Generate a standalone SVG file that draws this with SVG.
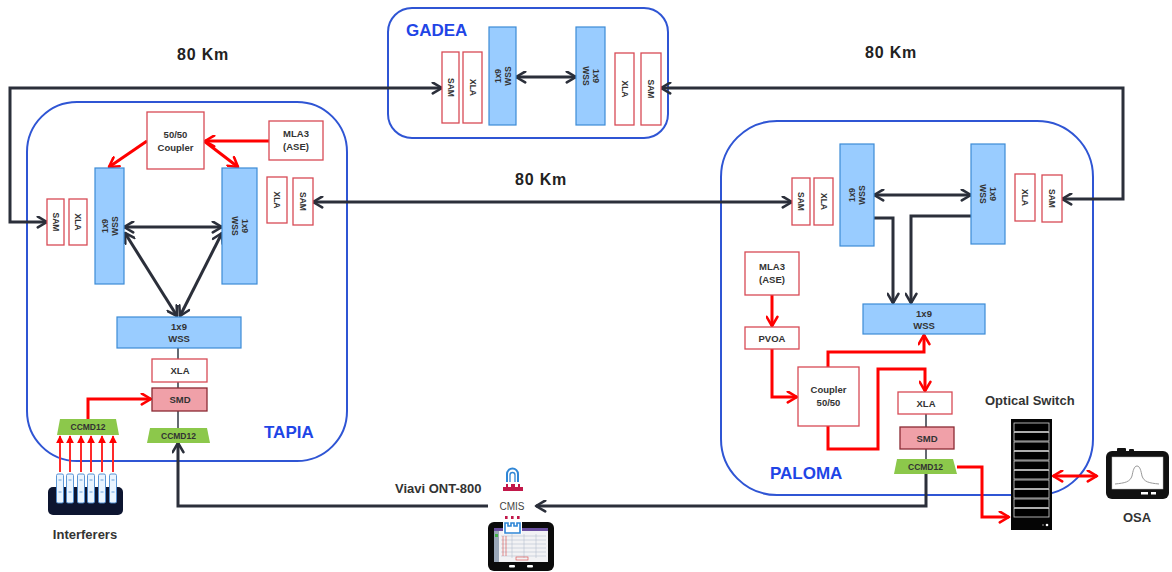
<svg xmlns="http://www.w3.org/2000/svg" width="1172" height="572" viewBox="0 0 1172 572">
  <style>
    text { font-family: "Liberation Sans", Arial, sans-serif; font-weight: bold; }
    .site { fill: none; stroke: #2f55d4; stroke-width: 2; }
    .site-label { fill: #1f45e6; font-size: 17px; }
    .wss { fill: #99ccff; stroke: #3c8bd6; stroke-width: 1.2; }
    .amp { fill: #ffffff; stroke: #d84a55; stroke-width: 1.3; }
    .smd { fill: #f0a0a8; stroke: #8a2a33; stroke-width: 1.3; }
    .ccmd { fill: #8cc84b; }
    .lbl { fill: #333333; font-size: 9.5px; text-anchor: middle; }
    .small { font-size: 8.5px; }
    .km { fill: #222222; font-size: 16px; letter-spacing: 0.8px; }
    .dark { fill: none; stroke: #2b2f3a; stroke-width: 3; marker-end: url(#arrDark); }
    .dark2 { fill: none; stroke: #2b2f3a; stroke-width: 3; marker-start: url(#arrDark); marker-end: url(#arrDark); }
    .thin { fill: none; stroke: #333a44; stroke-width: 1.5; }
    .red { fill: none; stroke: #ff0000; stroke-width: 3; marker-end: url(#arrRed); }
    .red2 { fill: none; stroke: #ff0000; stroke-width: 3; marker-start: url(#arrRed); marker-end: url(#arrRed); }
    .redthin { fill: none; stroke: #ff2a2a; stroke-width: 2; marker-end: url(#arrRedSmall); }
    .caption { fill: #333333; font-size: 13px; }
  </style>
  <defs>
    <marker id="arrDark" viewBox="0 0 12 12" refX="10.5" refY="6" markerWidth="13" markerHeight="13" markerUnits="userSpaceOnUse" orient="auto-start-reverse">
      <path d="M2,1 L10.5,6 L2,11" fill="none" stroke="#2b2f3a" stroke-width="2.4" stroke-linecap="round" stroke-linejoin="round"/>
    </marker>
    <marker id="arrRed" viewBox="0 0 12 12" refX="10.5" refY="6" markerWidth="13" markerHeight="13" markerUnits="userSpaceOnUse" orient="auto-start-reverse">
      <path d="M2,1 L10.5,6 L2,11" fill="none" stroke="#ff0000" stroke-width="2.4" stroke-linecap="round" stroke-linejoin="round"/>
    </marker>
    <marker id="arrRedSmall" viewBox="0 0 10 10" refX="9" refY="5" markerWidth="8" markerHeight="8" markerUnits="userSpaceOnUse" orient="auto">
      <path d="M0,0 L10,5 L0,10 Z" fill="#ff0000"/>
    </marker>
  </defs>

  <rect width="1172" height="572" fill="#ffffff"/>

  <!-- site outlines -->
  <g id="site-tapia">
    <rect class="site" x="27" y="102" width="320" height="359" rx="50"/>
    <text class="site-label" x="264" y="438">TAPIA</text>
  </g>
  <g id="site-gadea">
    <rect class="site" x="388" y="8" width="280" height="130" rx="24"/>
    <text class="site-label" x="406" y="36">GADEA</text>
  </g>
  <g id="site-paloma">
    <rect class="site" x="721" y="121" width="372" height="374" rx="56"/>
    <text class="site-label" x="770" y="479">PALOMA</text>
  </g>

  <!-- span labels -->
  <g id="spans">
    <text class="km" x="177" y="60">80 Km</text>
    <text class="km" x="515" y="185">80 Km</text>
    <text class="km" x="865" y="58">80 Km</text>
  </g>

  <!-- connectors -->
  <g id="connectors">
    <!-- fibre spans -->
    <path class="dark2" d="M442,88 H10 V222 H47"/>
    <path class="dark2" d="M661,88 H1123 V199 H1062"/>
    <path class="dark2" d="M313,202 H792"/>
    <!-- GADEA express -->
    <path class="dark2" d="M516,77 H576"/>
    <!-- TAPIA express -->
    <path class="dark2" d="M124,227 H222"/>
    <path class="dark2" d="M125,233 L177,316"/>
    <path class="dark2" d="M222,233 L180,316"/>
    <!-- PALOMA express -->
    <path class="dark2" d="M874,195 H971"/>
    <path class="dark" d="M874,218 H893 V303"/>
    <path class="dark" d="M971,216 H911 V303"/>
    <!-- test path through CMIS -->
    <path class="dark" d="M926,474 V506 H536"/>
    <path class="dark" d="M488,506 H178 V443"/>
    <!-- drop chains -->
    <path class="thin" d="M178,348 V359 M178,382 V388 M178,411 V428"/>
    <path class="thin" d="M926,414 V427 M926,449 V459"/>
    <!-- ASE loading, TAPIA -->
    <path class="red" d="M269,141 H205"/>
    <path class="red" d="M147,141 L109,167"/>
    <path class="red" d="M204,141 L238,167"/>
    <path class="red" d="M88,419 V399 H151"/>
    <!-- interferer inputs -->
    <path class="redthin" d="M60,472 V436"/>
    <path class="redthin" d="M70,472 V436"/>
    <path class="redthin" d="M81,472 V436"/>
    <path class="redthin" d="M91,472 V436"/>
    <path class="redthin" d="M102,472 V436"/>
    <path class="redthin" d="M113,472 V436"/>
    <!-- ASE loading, PALOMA -->
    <path class="red" d="M772,295 V326"/>
    <path class="red" d="M772,349 V397 H797"/>
    <path class="red" d="M828,367 V352 H924 V335"/>
    <path class="red" d="M828,426 V449 H878 V369 H925 V391"/>
    <path class="red" d="M957,467 H982 V517 H1009"/>
    <path class="red2" d="M1053,476 H1097"/>
  </g>

  <!-- TAPIA nodes -->
  <g id="tapia-coupler">
    <rect class="amp" x="147" y="112" width="57" height="57"/>
    <text class="lbl" x="175.5" y="138">50/50</text>
    <text class="lbl" x="175.5" y="151">Coupler</text>
  </g>
  <g id="tapia-mla3">
    <rect class="amp" x="269" y="121" width="54" height="39"/>
    <text class="lbl" x="296" y="137">MLA3</text>
    <text class="lbl" x="296" y="150">(ASE)</text>
  </g>
  <g id="tapia-sam-w">
    <rect class="amp" x="47" y="199" width="17" height="46"/>
    <text class="lbl small" transform="translate(55.5,222) rotate(90)" y="3">SAM</text>
  </g>
  <g id="tapia-xla-w">
    <rect class="amp" x="69" y="199" width="18" height="46"/>
    <text class="lbl small" transform="translate(78,222) rotate(90)" y="3">XLA</text>
  </g>
  <g id="tapia-wss-w">
    <rect class="wss" x="95" y="168" width="29" height="116"/>
    <text class="lbl small" transform="translate(109.5,226) rotate(-90)" y="-2">1x9</text>
    <text class="lbl small" transform="translate(109.5,226) rotate(-90)" y="8">WSS</text>
  </g>
  <g id="tapia-wss-e">
    <rect class="wss" x="222" y="168" width="35" height="116"/>
    <text class="lbl small" transform="translate(239.5,226) rotate(90)" y="-2">1x9</text>
    <text class="lbl small" transform="translate(239.5,226) rotate(90)" y="8">WSS</text>
  </g>
  <g id="tapia-xla-e">
    <rect class="amp" x="267" y="177" width="20" height="46"/>
    <text class="lbl small" transform="translate(277,200) rotate(90)" y="3">XLA</text>
  </g>
  <g id="tapia-sam-e">
    <rect class="amp" x="293" y="178" width="20" height="47"/>
    <text class="lbl small" transform="translate(303,201.5) rotate(90)" y="3">SAM</text>
  </g>
  <g id="tapia-wss-drop">
    <rect class="wss" x="117" y="317" width="124" height="31"/>
    <text class="lbl" x="179" y="330">1x9</text>
    <text class="lbl" x="179" y="342">WSS</text>
  </g>
  <g id="tapia-xla-drop">
    <rect class="amp" x="152" y="359" width="55" height="23"/>
    <text class="lbl" x="180" y="374">XLA</text>
  </g>
  <g id="tapia-smd">
    <rect class="smd" x="152" y="388" width="55" height="23"/>
    <text class="lbl" x="180" y="403" fill="#5a3a3e">SMD</text>
  </g>
  <g id="tapia-ccmd12">
    <polygon class="ccmd" points="150,428 207,428 210,443 147,443"/>
    <text class="lbl small" x="178.5" y="439">CCMD12</text>
  </g>
  <g id="tapia-ccmd12-interferers">
    <polygon class="ccmd" points="60,419 116,419 119,435 57,435"/>
    <text class="lbl small" x="88" y="430">CCMD12</text>
  </g>
  <g id="interferers">
    <rect x="48" y="487" width="75" height="28" rx="5" fill="#0d1530"/>
    <g fill="#eaf5ff" stroke="#4a8ad0" stroke-width="0.9">
      <rect x="56.5" y="474" width="7" height="29" rx="1.5"/>
      <rect x="66.5" y="474" width="7" height="29" rx="1.5"/>
      <rect x="77.5" y="474" width="7" height="29" rx="1.5"/>
      <rect x="87.5" y="474" width="7" height="29" rx="1.5"/>
      <rect x="98.5" y="474" width="7" height="29" rx="1.5"/>
      <rect x="109.5" y="474" width="7" height="29" rx="1.5"/>
    </g>
    <g fill="none" stroke="#4a8ad0" stroke-width="0.8">
      <path d="M58.5,480 H61.5 M68.5,480 H71.5 M79.5,480 H82.5 M89.5,480 H92.5 M100.5,480 H103.5 M111.5,480 H114.5"/>
      <path d="M58.5,492 H61.5 M68.5,492 H71.5 M79.5,492 H82.5 M89.5,492 H92.5 M100.5,492 H103.5 M111.5,492 H114.5"/>
    </g>
    <text class="caption" x="85" y="539" text-anchor="middle" font-size="12.5">Interferers</text>
  </g>

  <!-- GADEA nodes -->
  <g id="gadea-sam-w">
    <rect class="amp" x="442" y="52" width="17" height="71"/>
    <text class="lbl small" transform="translate(450.5,87.5) rotate(90)" y="3">SAM</text>
  </g>
  <g id="gadea-xla-w">
    <rect class="amp" x="463" y="52" width="19" height="71"/>
    <text class="lbl small" transform="translate(472.5,87.5) rotate(90)" y="3">XLA</text>
  </g>
  <g id="gadea-wss-w">
    <rect class="wss" x="489" y="27" width="27" height="98"/>
    <text class="lbl small" transform="translate(502.5,76) rotate(-90)" y="-2">1x9</text>
    <text class="lbl small" transform="translate(502.5,76) rotate(-90)" y="8">WSS</text>
  </g>
  <g id="gadea-wss-e">
    <rect class="wss" x="576" y="27" width="29" height="98"/>
    <text class="lbl small" transform="translate(590.5,76) rotate(90)" y="-2">1x9</text>
    <text class="lbl small" transform="translate(590.5,76) rotate(90)" y="8">WSS</text>
  </g>
  <g id="gadea-xla-e">
    <rect class="amp" x="615" y="53" width="19" height="72"/>
    <text class="lbl small" transform="translate(624.5,89) rotate(90)" y="3">XLA</text>
  </g>
  <g id="gadea-sam-e">
    <rect class="amp" x="641" y="53" width="20" height="72"/>
    <text class="lbl small" transform="translate(651,89) rotate(90)" y="3">SAM</text>
  </g>

  <!-- PALOMA nodes -->
  <g id="paloma-sam-w">
    <rect class="amp" x="792" y="178" width="18" height="47"/>
    <text class="lbl small" transform="translate(801,201.5) rotate(90)" y="3">SAM</text>
  </g>
  <g id="paloma-xla-w">
    <rect class="amp" x="814" y="178" width="19" height="47"/>
    <text class="lbl small" transform="translate(823.5,201.5) rotate(90)" y="3">XLA</text>
  </g>
  <g id="paloma-wss-w">
    <rect class="wss" x="840" y="144" width="34" height="102"/>
    <text class="lbl small" transform="translate(857,195) rotate(-90)" y="-2">1x9</text>
    <text class="lbl small" transform="translate(857,195) rotate(-90)" y="8">WSS</text>
  </g>
  <g id="paloma-wss-e">
    <rect class="wss" x="971" y="144" width="34" height="100"/>
    <text class="lbl small" transform="translate(988,194) rotate(90)" y="-2">1x9</text>
    <text class="lbl small" transform="translate(988,194) rotate(90)" y="8">WSS</text>
  </g>
  <g id="paloma-xla-e">
    <rect class="amp" x="1015" y="174" width="20" height="47"/>
    <text class="lbl small" transform="translate(1025,197.5) rotate(90)" y="3">XLA</text>
  </g>
  <g id="paloma-sam-e">
    <rect class="amp" x="1042" y="175" width="20" height="47"/>
    <text class="lbl small" transform="translate(1052,198.5) rotate(90)" y="3">SAM</text>
  </g>
  <g id="paloma-wss-drop">
    <rect class="wss" x="863" y="304" width="122" height="30"/>
    <text class="lbl" x="924" y="317">1x9</text>
    <text class="lbl" x="924" y="329">WSS</text>
  </g>
  <g id="paloma-mla3">
    <rect class="amp" x="745" y="252" width="54" height="43"/>
    <text class="lbl" x="772" y="270">MLA3</text>
    <text class="lbl" x="772" y="283">(ASE)</text>
  </g>
  <g id="paloma-pvoa">
    <rect class="amp" x="745" y="327" width="54" height="22"/>
    <text class="lbl" x="772" y="342">PVOA</text>
  </g>
  <g id="paloma-coupler">
    <rect class="amp" x="798" y="367" width="61" height="59"/>
    <text class="lbl" x="828.5" y="393">Coupler</text>
    <text class="lbl" x="828.5" y="406">50/50</text>
  </g>
  <g id="paloma-xla-drop">
    <rect class="amp" x="898" y="392" width="54" height="22"/>
    <text class="lbl" x="926" y="407">XLA</text>
  </g>
  <g id="paloma-smd">
    <rect class="smd" x="900" y="427" width="54" height="22"/>
    <text class="lbl" x="927" y="442" fill="#5a3a3e">SMD</text>
  </g>
  <g id="paloma-ccmd12">
    <polygon class="ccmd" points="897,459 953,459 957,474 894,474"/>
    <text class="lbl small" x="925.5" y="470">CCMD12</text>
  </g>

  <!-- optical switch -->
  <g id="optical-switch">
    <text class="caption" x="985" y="405">Optical Switch</text>
    <rect x="1011" y="419" width="41" height="111" fill="#050505"/>
    <g fill="#000000" stroke="#d8d8d8" stroke-width="0.8">
      <rect x="1014" y="423" width="35" height="8.5"/>
      <rect x="1014" y="432.5" width="35" height="8.5"/>
      <rect x="1014" y="442" width="35" height="8.5"/>
      <rect x="1014" y="451.5" width="35" height="8.5"/>
      <rect x="1014" y="461" width="35" height="8.5"/>
      <rect x="1014" y="470.5" width="35" height="8.5"/>
      <rect x="1014" y="480" width="35" height="8.5"/>
      <rect x="1014" y="489.5" width="35" height="8.5"/>
      <rect x="1014" y="499" width="35" height="8.5"/>
      <rect x="1014" y="508.5" width="35" height="8.5"/>
    </g>
    <circle cx="1047" cy="525" r="1.3" fill="#ffffff"/>
    <circle cx="1043" cy="525" r="0.8" fill="#aaaaaa"/>
  </g>

  <!-- OSA -->
  <g id="osa">
    <rect x="1117" y="448" width="9" height="4" rx="1" fill="#111111"/>
    <rect x="1129" y="449" width="5" height="3" rx="1" fill="#111111"/>
    <rect x="1106" y="451" width="63" height="48" rx="6" fill="#111111"/>
    <rect x="1112" y="457" width="51" height="32" fill="#ffffff" stroke="#bbbbbb" stroke-width="0.5"/>
    <path d="M1115,484 C1125,483 1130,482 1132,476 C1133,471 1134,466 1137,466 C1140,466 1141,471 1142,476 C1144,482 1149,483 1159,484" fill="none" stroke="#999999" stroke-width="1"/>
    <rect x="1141" y="492" width="7" height="2.5" fill="#ffffff"/>
    <rect x="1151" y="492" width="5" height="2.5" fill="#ffffff"/>
    <text class="caption" x="1137" y="522" text-anchor="middle">OSA</text>
  </g>

  <!-- test set with CMIS -->
  <g id="viavi-ont-800">
    <text class="caption" x="395" y="493">Viavi ONT-800</text>
    <!-- CMIS host/module glyph -->
    <path d="M507,482 V474 A5.5,5.5 0 0 1 518,474 V482" fill="none" stroke="#2f86d6" stroke-width="2"/>
    <path d="M510,482 V475 A2.5,2.5 0 0 1 515,475 V482" fill="none" stroke="#2f86d6" stroke-width="1.3"/>
    <path d="M503,491 H523 V487 H520 V484 H518 V487 H515 V484 H511 V487 H508 V484 H506 V487 H503 Z" fill="#c2184a"/>
    <text x="512" y="510" text-anchor="middle" font-size="10" fill="#444444" style="font-weight:normal">CMIS</text>
    <!-- tablet -->
    <rect x="488" y="522" width="66" height="49" rx="6" fill="#0b0b0b"/>
    <rect x="494" y="528" width="54" height="34" fill="#f2f2f4"/>
    <rect x="494" y="528" width="54" height="3" fill="#6a4fa0"/>
    <rect x="494" y="531" width="5" height="31" fill="#9aa7b8"/>
    <rect x="495" y="534" width="3" height="3" fill="#43b04a"/>
    <g stroke="#b7bfd0" stroke-width="0.6">
      <path d="M501,536 H546 M501,540 H546 M501,544 H546 M501,548 H546 M501,552 H546 M501,556 H546"/>
      <path d="M512,534 V558 M524,534 V558 M536,534 V558"/>
    </g>
    <path d="M503,536 V556 M506,536 V556" stroke="#d94444" stroke-width="0.6"/>
    <rect x="516" y="557" width="12" height="3" fill="none" stroke="#d94444" stroke-width="0.6"/>
    <rect x="509" y="565" width="6" height="2.5" rx="1" fill="#ffffff"/>
    <rect x="527" y="565" width="6" height="2.5" rx="1" fill="#ffffff"/>
    <!-- module crown glyph -->
    <g fill="#c2184a">
      <rect x="505" y="516" width="2.6" height="3"/>
      <rect x="511" y="516" width="2.6" height="3"/>
      <rect x="517" y="516" width="2.6" height="3"/>
    </g>
    <rect x="503" y="521" width="19" height="13" fill="#ffffff"/>
    <path d="M505,523 H508 V526 H511 V523 H514 V526 H517 V523 H520 V533 H505 Z" fill="none" stroke="#2f86d6" stroke-width="1.6"/>
  </g>
</svg>
